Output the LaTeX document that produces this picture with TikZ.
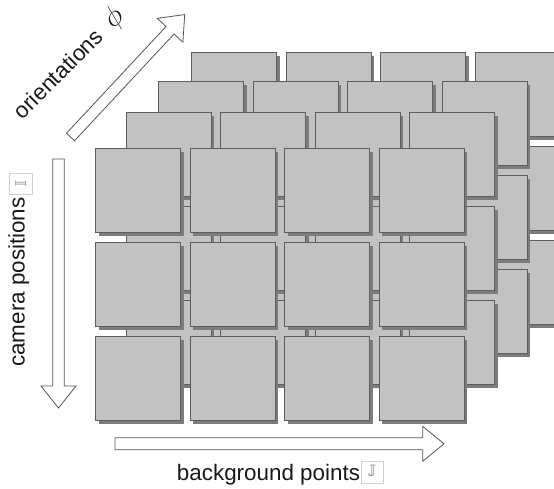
\documentclass[tikz,border=0pt]{standalone}
\usepackage{fix-cm}
\usepackage{amssymb}
\usepackage{graphicx}
\usepackage{fontspec}
\setmainfont{Liberation Sans}
\usetikzlibrary{shadows}
\definecolor{tilegray}{HTML}{C2C2C2}
\definecolor{bordergray}{HTML}{5E5E5E}
\definecolor{shadowgray}{HTML}{7C7C7C}
\definecolor{arrowgray}{HTML}{555555}
\definecolor{boxgray}{HTML}{CFCFCF}
\definecolor{lettergray}{HTML}{666666}
\begin{document}
\begin{tikzpicture}[x=1pt,y=-1pt,
  tile/.style={draw=bordergray, fill=tilegray, line width=1pt, minimum width=85pt, minimum height=84pt, inner sep=0pt, anchor=north west,
    general shadow={fill=shadowgray, shadow xshift=3pt, shadow yshift=-3pt}},
  hollow/.style={draw=arrowgray, fill=white, line width=0.8pt, line join=miter},
  lbl/.style={font=\fontsize{22.4}{24}\selectfont, inner sep=0pt, text=black!90},
  setbox/.style={draw=boxgray, fill=white, line width=0.6pt, inner sep=0pt, text=lettergray, font=\fontsize{15}{15}\selectfont}]
\useasboundingbox (0,0) rectangle (554,488);
\clip (0,0) rectangle (554,488);
% tiles, back layer first
\foreach \L/\ox/\oy in {3/191/52.3, 2/158.3/81, 1/125.7/112.3, 0/95/148} {
  \foreach \r in {0,1,2} {
    \foreach \c in {0,1,2,3} {
      \node[tile] (t\L-\r-\c) at ({\ox+94.5*\c},{\oy+94*\r}) {};
    }
  }
}
% vertical arrow (camera positions)
\draw[hollow] (52.7,159) -- (64.3,159) -- (64.3,386) -- (76,386) -- (58.5,408) -- (41,386) -- (52.7,386) -- cycle;
% horizontal arrow (background points)
\draw[hollow] (115,437.8) -- (422.7,437.8) -- (422.7,426.3) -- (444,443.8) -- (422.7,461.3) -- (422.7,449.8) -- (115,449.8) -- cycle;
% diagonal arrow (orientations)
\begin{scope}[shift={(70.5,137)}, x={(0.682pt,0.731pt)}, y={(-0.731pt,0.682pt)}]
  \draw[hollow] (0,-5.5) -- (146,-5.5) -- (146,-17.5) -- (167.5,0) -- (146,17.5) -- (146,5.5) -- (0,5.5) -- cycle;
\end{scope}
% labels
\node[lbl, rotate=90, anchor=base] (cam) at (24.5,282) {camera positions};
\node[setbox, rotate=90, minimum width=21pt, minimum height=23pt] (ibox) at (20.8,183.7) {$\mathbb{I}$};
\node[lbl, anchor=base] (bg) at (268.5,480) {background points};
\node[setbox, minimum width=22pt, minimum height=22pt] (jbox) at (372,472) {$\mathbb{J}$};
\node[lbl, rotate=45, anchor=base] (ori) at (74,69) {orientations\ \ \scalebox{1.3}{$\phi$}};
\end{tikzpicture}
\end{document}
